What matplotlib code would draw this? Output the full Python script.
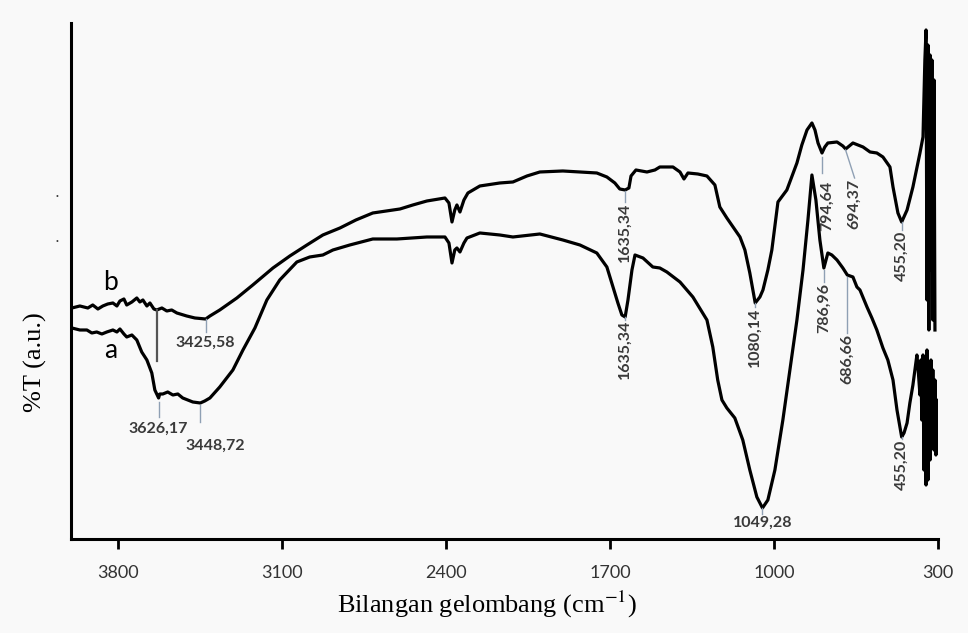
import matplotlib
matplotlib.use("Agg")
import matplotlib.pyplot as plt
import numpy as np

plt.rcParams["mathtext.fontset"] = "stix"

# spectrum a (lower trace): wavenumber (cm-1) and %T in arbitrary units
wn_a = [3996, 3962, 3932, 3911, 3890, 3868, 3847, 3821, 3804, 3791, 3774, 3762,
        3740, 3719, 3698, 3676, 3655, 3642, 3626, 3621, 3608, 3587, 3565, 3544,
        3523, 3480, 3448, 3429, 3407, 3365, 3309, 3266, 3215, 3164, 3109, 3036,
        2981, 2925, 2882, 2810, 2712, 2609, 2481, 2404, 2387, 2374, 2362, 2353,
        2340, 2323, 2310, 2255, 2170, 2114, 1999, 1901, 1828, 1756, 1713, 1687,
        1666, 1649, 1635, 1623, 1606, 1593, 1559, 1517, 1487, 1457, 1401, 1346,
        1286, 1261, 1240, 1222, 1201, 1167, 1133, 1103, 1073, 1049, 1026, 996,
        962, 932, 902, 876, 855, 838, 821, 804, 787, 770, 753, 731, 706, 687,
        663, 646, 633, 603, 582, 561, 535, 514, 492, 475, 455, 445, 432, 420,
        407, 390, 386, 377, 373, 369, 364, 360, 356, 351, 347, 343, 339, 334,
        330, 326, 322, 317, 313, 309, 305, 302]
t_a = [42.2, 41.8, 41.8, 41.2, 41.4, 41.0, 41.4, 41.8, 41.4, 42.0, 41.0, 40.4,
       40.8, 39.8, 37.4, 35.8, 33.2, 29.8, 28.2, 29.0, 29.0, 29.4, 28.8, 29.0,
       28.2, 27.4, 27.2, 27.6, 28.2, 30.4, 33.8, 37.8, 42.2, 47.8, 51.8, 55.4,
       56.4, 56.8, 57.8, 58.8, 60.0, 60.0, 60.4, 60.4, 59.2, 55.2, 57.8, 58.2,
       57.4, 59.2, 60.2, 61.2, 60.8, 60.4, 61.0, 59.8, 58.8, 57.2, 54.4, 50.4,
       47.2, 44.8, 44.4, 47.8, 53.8, 56.8, 56.2, 54.4, 54.2, 53.4, 51.4, 48.4,
       43.8, 38.4, 31.8, 27.8, 26.2, 24.2, 19.8, 13.8, 8.4, 6.2, 7.8, 13.8,
       23.8, 33.8, 43.8, 53.8, 63.8, 72.8, 67.8, 59.8, 54.2, 57.2, 56.8, 55.8,
       54.2, 52.8, 52.4, 50.4, 49.8, 46.4, 44.2, 41.8, 38.2, 35.8, 31.8, 25.8,
       20.4, 21.2, 23.2, 27.2, 30.8, 36.8, 34.8, 28.8, 35.8, 23.8, 36.8, 13.8,
       35.8, 10.8, 37.8, 11.8, 33.8, 15.8, 35.8, 19.8, 33.8, 17.8, 31.8, 16.8,
       27.8, 17.2]

# spectrum b (upper trace)
wn_b = [3996, 3962, 3928, 3907, 3885, 3864, 3843, 3821, 3804, 3791, 3774, 3762,
        3740, 3719, 3706, 3693, 3676, 3663, 3646, 3634, 3612, 3591, 3570, 3548,
        3506, 3471, 3425, 3407, 3365, 3292, 3224, 3138, 3066, 2993, 2925, 2852,
        2784, 2712, 2596, 2541, 2481, 2404, 2387, 2374, 2362, 2353, 2340, 2323,
        2306, 2255, 2170, 2114, 2054, 1999, 1901, 1828, 1756, 1713, 1679, 1658,
        1635, 1619, 1610, 1589, 1542, 1508, 1487, 1431, 1401, 1384, 1367, 1325,
        1286, 1252, 1231, 1201, 1145, 1124, 1103, 1080, 1060, 1047, 1026, 1009,
        983, 945, 902, 881, 859, 838, 825, 812, 795, 783, 770, 731, 706, 694,
        663, 620, 590, 561, 535, 505, 492, 471, 455, 432, 407, 377, 364, 356,
        351, 347, 343, 339, 334, 330, 326, 322, 317, 313]
t_b = [46.2, 46.6, 46.2, 46.8, 46.0, 46.6, 47.0, 47.2, 46.6, 47.6, 48.0, 46.8,
       47.4, 48.2, 47.4, 47.8, 46.6, 47.2, 46.0, 45.8, 46.2, 45.6, 45.8, 45.2,
       44.6, 44.2, 44.0, 44.6, 45.8, 48.2, 50.8, 54.2, 56.6, 58.8, 60.8, 62.2,
       63.8, 65.2, 66.0, 66.8, 67.6, 68.2, 67.2, 63.4, 65.8, 66.8, 65.4, 67.8,
       69.2, 70.6, 71.2, 71.4, 72.6, 73.4, 73.6, 73.4, 73.2, 72.4, 71.2, 70.0,
       69.8, 70.2, 72.6, 73.8, 73.4, 73.8, 74.4, 74.4, 73.4, 72.0, 73.2, 73.0,
       72.6, 70.8, 66.4, 64.2, 60.4, 57.8, 53.2, 47.2, 48.4, 49.8, 53.8, 57.8,
       67.4, 69.8, 75.2, 78.8, 81.8, 83.2, 81.8, 79.2, 77.2, 78.4, 79.2, 79.4,
       78.6, 78.0, 79.2, 78.4, 77.4, 77.2, 76.4, 74.4, 70.4, 65.2, 63.4, 65.8,
       70.4, 77.2, 80.4, 95.8, 101.8, 47.8, 98.8, 41.8, 96.8, 53.8, 95.8, 43.8,
       91.8, 41.8]

x_ticks = [3800, 3100, 2400, 1700, 1000, 300]

# peak labels: (text, line x, line from, line to, text x, text y, rotated)
peaks_b = [("3425,58", 3425, 44.0, 41.4, 3425, 39.2, False),
           ("1635,34", 1635.34, 69.6, 67.4, 1635.34, 67.2, True),
           ("1080,14", 1080.14, 47.2, 46.4, 1080.14, 46.2, True),
           ("794,64", 794.64, 76.4, 73.2, 775, 71.6, True),
           ("694,37", 694.37, 77.8, 72.2, 656, 72.0, True),
           ("455,20", 455.20, 63.4, 61.8, 455.20, 61.6, True)]
peaks_a = [("3626,17", 3626.17, 27.4, 24.4, 3626.17, 22.0, False),
           ("3448,72", 3448.72, 26.8, 23.4, 3386, 18.6, False),
           ("1635,34", 1635.34, 44.4, 43.8, 1635.34, 43.8, True),
           ("1049,28", 1049.28, 6.2, 5.0, 1049.28, 3.2, False),
           ("786,96", 786.96, 53.8, 51.4, 786.96, 51.2, True),
           ("686,66", 686.66, 52.4, 41.2, 686.66, 41.0, True),
           ("455,20", 455.20, 20.4, 20.0, 455.20, 19.8, True)]

bg = "#f9f9f9"
fig = plt.figure(figsize=(9.68, 6.33), dpi=100, facecolor=bg)
ax = fig.add_axes([0.0733, 0.1485, 0.8957, 0.8152], facecolor=bg)

ax.plot(wn_b, t_b, color="black", lw=2.3, solid_joinstyle="round")
ax.plot(wn_a, t_a, color="black", lw=2.3, solid_joinstyle="round")

# marker line dropped from trace b near 3630
ax.plot([3634, 3634], [45.8, 35.6], color="#555555", lw=1.6)

lab_font = dict(fontsize=11.5, fontweight="bold", color="#3a3a3a", family="Lato")
for lab, x0, y0, y1, tx, ty, rot in peaks_b + peaks_a:
    if y0 != y1:
        x1 = tx if rot and abs(tx - x0) > 30 else x0
        ax.plot([x0, x1], [y0, y1], color="#8fa0b4", lw=1.0)
    if rot:
        ax.text(tx, ty, lab, rotation=90, ha="center", va="top", **lab_font)
    else:
        ax.text(tx, ty, lab, ha="center", va="center", **lab_font)

ax.text(3830, 51.2, "b", fontsize=19, ha="center", va="center", family="Lato")
ax.text(3830, 37.6, "a", fontsize=19, ha="center", va="center", family="Lato")

ax.set_xlim(4000, 300)
ax.set_ylim(0, 103.2)
ax.set_xticks(x_ticks)
ax.set_xticklabels([str(v) for v in x_ticks], family="Lato", fontsize=13,
                   color="#333333")
ax.set_yticks([])
ax.tick_params(axis="x", direction="out", length=7, width=2, pad=12)
for s in ["top", "right"]:
    ax.spines[s].set_visible(False)
for s in ["left", "bottom"]:
    ax.spines[s].set_linewidth(2.2)

fig.text(487 / 968, 1 - 604 / 633, "Bilangan gelombang (cm$^{-1}$)",
         ha="center", va="center", fontsize=19, family="Liberation Serif")
fig.text(35 / 968, 1 - 362 / 633, "%T (a.u.)", rotation=90,
         ha="center", va="center", fontsize=19, family="Liberation Serif")
for yy in (197, 242):
    fig.text(57 / 968, 1 - yy / 633, ".", fontsize=11, color="#444444",
             ha="center", va="baseline")

fig.savefig("out.png", dpi=100, facecolor=bg)
